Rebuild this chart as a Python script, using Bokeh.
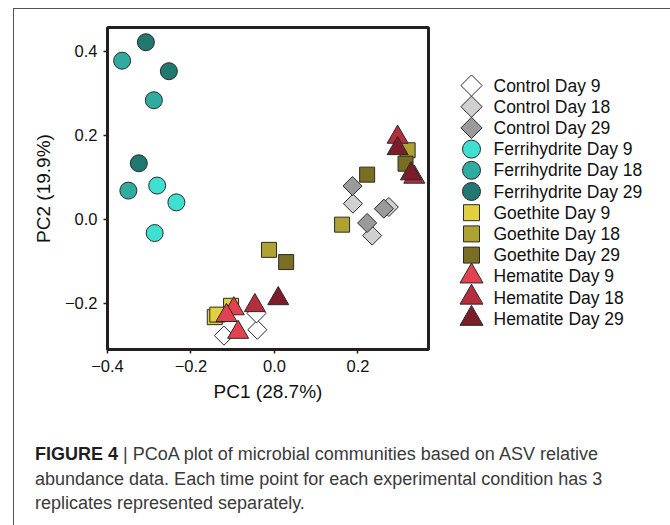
import math
from bokeh.plotting import figure
from bokeh.models import FixedTicker, Div, Column, Row, Range1d
from bokeh.core.properties import value
from bokeh.embed import file_html
from bokeh.resources import INLINE

# ---- data ----
groups = ["Control Day 9", "Control Day 18", "Control Day 29",
          "Ferrihydrite Day 9", "Ferrihydrite Day 18", "Ferrihydrite Day 29",
          "Goethite Day 9", "Goethite Day 18", "Goethite Day 29",
          "Hematite Day 9", "Hematite Day 18", "Hematite Day 29"]

control_d9_x = [-0.121, -0.041, -0.043]
control_d9_y = [-0.277, -0.263, -0.224]
control_d18_x = [0.188, 0.234, 0.274]
control_d18_y = [0.037, -0.039, 0.029]
control_d29_x = [0.187, 0.222, 0.262]
control_d29_y = [0.079, -0.009, 0.025]

ferri_d9_x = [-0.281, -0.235, -0.287]
ferri_d9_y = [0.080, 0.040, -0.033]
ferri_d18_x = [-0.365, -0.289, -0.350]
ferri_d18_y = [0.377, 0.283, 0.068]
ferri_d29_x = [-0.308, -0.253, -0.325]
ferri_d29_y = [0.421, 0.352, 0.133]

goe_d9_x = [-0.143, -0.137, -0.104]
goe_d9_y = [-0.233, -0.227, -0.206]
goe_d18_x = [0.162, -0.013, 0.319]
goe_d18_y = [-0.013, -0.073, 0.164]
goe_d29_x = [0.028, 0.222, 0.314]
goe_d29_y = [-0.102, 0.106, 0.132]

hem_d9_x = [-0.0975, -0.115, -0.087]
hem_d9_y = [-0.213, -0.229, -0.269]
hem_d18_x = [-0.047, 0.295, 0.335]
hem_d18_y = [-0.2055, 0.195, 0.100]
hem_d29_x = [0.009, 0.295, 0.327]
hem_d29_y = [-0.189, 0.168, 0.108]

group_x = [control_d9_x, control_d18_x, control_d29_x,
           ferri_d9_x, ferri_d18_x, ferri_d29_x,
           goe_d9_x, goe_d18_x, goe_d29_x,
           hem_d9_x, hem_d18_x, hem_d29_x]
group_y = [control_d9_y, control_d18_y, control_d29_y,
           ferri_d9_y, ferri_d18_y, ferri_d29_y,
           goe_d9_y, goe_d18_y, goe_d29_y,
           hem_d9_y, hem_d18_y, hem_d29_y]

colors = ["#ffffff", "#d0d0d0", "#9a9a9a",
          "#40e0d0", "#30aba0", "#207870",
          "#e0cf40", "#aea232", "#7a6e22",
          "#e24150", "#b42e3c", "#7b1e2a"]
markers = ["square", "square", "square",
           "circle", "circle", "circle",
           "square", "square", "square",
           "triangle", "triangle", "triangle"]
angles = [math.pi / 4] * 3 + [0.0] * 9
sizes = [13.5, 13.5, 13.5, 17, 17, 17, 15, 15, 15, 21, 21, 21]
legend_sizes = [15, 15, 15, 18, 18, 18, 16, 16, 16, 23, 23, 23]

x_ticks = [-0.4, -0.2, 0.0, 0.2]
x_tick_labels = ["\u22120.4", "\u22120.2", "0.0", "0.2"]
y_ticks = [-0.2, 0.0, 0.2, 0.4]
y_tick_labels = ["\u22120.2", "0.0", "0.2", "0.4"]

x_label = "PC1 (28.7%)"
y_label = "PC2 (19.9%)"
caption_bold = "FIGURE 4"
caption_lines = ["| PCoA plot of microbial communities based on ASV relative",
                 "abundance data. Each time point for each experimental condition has 3",
                 "replicates represented separately."]

FONT = "Liberation Sans"
FRAME_L, FRAME_T, FRAME_W, FRAME_H = 107, 27, 321, 322
FIG_H = 430
MAIN_W = FRAME_L + FRAME_W + 10
LEG_W = 670 - MAIN_W

# ---- main scatter plot ----
p = figure(frame_width=FRAME_W, frame_height=FRAME_H,
           x_range=(-0.4, 0.369), y_range=(-0.310, 0.456),
           min_border_left=FRAME_L, min_border_top=FRAME_T,
           min_border_right=MAIN_W - FRAME_L - FRAME_W,
           min_border_bottom=FIG_H - FRAME_T - FRAME_H,
           output_backend="svg", toolbar_location=None)
p.border_fill_color = None
p.background_fill_color = "white"
p.outline_line_color = "#231f20"
p.outline_line_width = 3
p.grid.visible = False

for ax in (p.xaxis, p.yaxis):
    ax.axis_line_color = None
    ax.major_tick_in = 0
    ax.major_tick_out = 4
    ax.major_tick_line_color = "#231f20"
    ax.major_tick_line_width = 1.5
    ax.minor_tick_line_color = None
    ax.major_label_text_font = FONT
    ax.major_label_text_font_size = "16.5px"
    ax.major_label_text_color = "#111111"
    ax.axis_label_text_font = FONT
    ax.axis_label_text_font_size = "19px"
    ax.axis_label_text_font_style = "normal"
    ax.axis_label_text_color = "#111111"

p.xaxis.ticker = FixedTicker(ticks=x_ticks)
p.xaxis.major_label_overrides = dict(zip(x_ticks, x_tick_labels))
p.yaxis.ticker = FixedTicker(ticks=y_ticks)
p.yaxis.major_label_overrides = dict(zip(y_ticks, y_tick_labels))
p.xaxis.axis_label = x_label
p.yaxis.axis_label = y_label
p.xaxis.major_label_standoff = 6
p.yaxis.major_label_standoff = 6
p.xaxis.axis_label_standoff = 6
p.yaxis.axis_label_standoff = 8

for xs, ys, c, m, s, a in zip(group_x, group_y, colors, markers, sizes, angles):
    p.scatter(xs, ys, marker=m, size=s, angle=a, fill_color=c,
              line_color="#2a2a2a", line_width=1)

# ---- legend panel (a second figure whose y scale maps entry index to rows) ----
# Bokeh aligns this figure's frame with the main frame (top FRAME_T, height FRAME_H)
ROW0, ROW_STEP = 85.0, 21.2          # pixel centre of first row, row pitch
GLYPH_X, TEXT_X = 471 - MAIN_W, 493 - MAIN_W
legend_rows = list(range(len(groups)))
leg = figure(width=LEG_W, height=FIG_H,
             x_range=Range1d(0, LEG_W),
             y_range=Range1d((FRAME_T + FRAME_H - ROW0) / ROW_STEP,
                             (FRAME_T - ROW0) / ROW_STEP),
             min_border=0, output_backend="svg", toolbar_location=None)
leg.axis.visible = False
leg.grid.visible = False
leg.outline_line_color = None
leg.border_fill_color = None
leg.background_fill_color = None
for i, (c, m, s, a) in enumerate(zip(colors, markers, legend_sizes, angles)):
    leg.scatter([GLYPH_X], [legend_rows[i]], marker=m, size=s, angle=a,
                fill_color=c, line_color="#2a2a2a", line_width=1)
leg.text(x=[TEXT_X] * len(groups), y=legend_rows, text=groups,
         text_baseline="middle", text_align="left",
         text_font=value(FONT), text_font_size="17.5px", text_color="#111111")

# ---- caption ----
caption_html = (
    "<div style=\"font-family:'Liberation Sans';font-size:18px;line-height:24.5px;"
    "color:#3a3a3a;white-space:nowrap;padding-left:30px;padding-top:7px;\">"
    "<b style=\"color:#1e1e1e\">" + caption_bold + "</b> " + caption_lines[0] + "<br>"
    + caption_lines[1] + "<br>" + caption_lines[2] + "</div>")
caption = Div(text=caption_html, width=670, height=525 - FIG_H)

page = Column(children=[Row(children=[p, leg], spacing=0), caption], spacing=0,
              styles={"background": "linear-gradient(#555,#555) 13px 8px / 1px 517px no-repeat, "
                                    "linear-gradient(#555,#555) 13px 8px / 657px 1px no-repeat, white"})

open("out.html", "w").write(file_html(page, INLINE))
